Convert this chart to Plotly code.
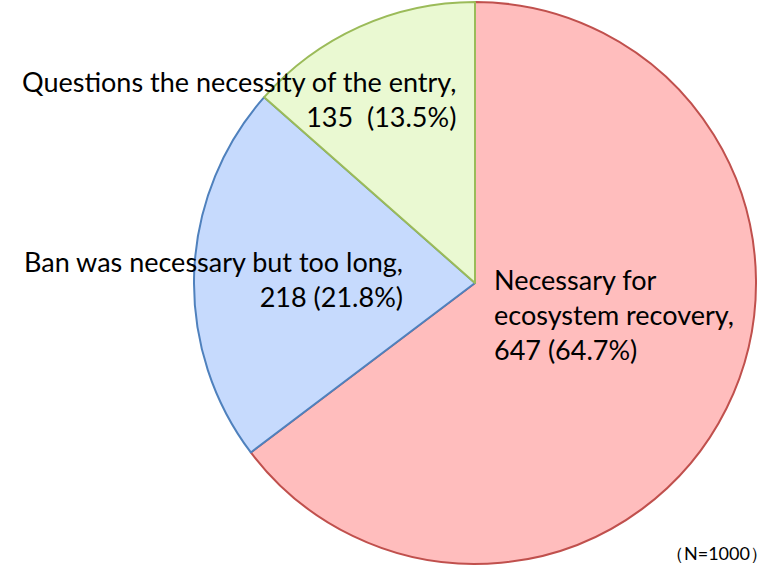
import plotly.graph_objects as go

categories = ["Necessary for ecosystem recovery", "Ban was necessary but too long", "Questions the necessity of the entry"]
counts = [647, 218, 135]
percents = [64.7, 21.8, 13.5]
total_n = 1000

fill_colors = ["#FFBDBD", "#C6DAFD", "#EAF9D2"]
line_colors = ["#C0504D", "#4F81BD", "#9BBB59"]

W, H = 773, 572
cx, cy, r = 475, 283, 281

fig = go.Figure(go.Pie(
    labels=categories,
    values=counts,
    sort=False,
    direction="clockwise",
    rotation=0,
    textinfo="none",
    hoverinfo="label+value+percent",
    marker=dict(colors=fill_colors, line=dict(color=line_colors, width=2)),
    domain=dict(x=[(cx - r) / W, (cx + r) / W], y=[(H - cy - r) / H, (H - cy + r) / H]),
    showlegend=False,
))

font = dict(family="Lato, Open Sans, sans-serif", size=27, color="#000000")
fig.add_annotation(x=492 / W, y=1 - 261 / H, xref="paper", yref="paper", xanchor="left", yanchor="top",
                   align="left", showarrow=False, font=font,
                   text=f"Necessary for<br>ecosystem recovery,<br>{counts[0]} ({percents[0]}%)")
fig.add_annotation(x=405 / W, y=1 - 243 / H, xref="paper", yref="paper", xanchor="right", yanchor="top",
                   align="right", showarrow=False, font=font,
                   text=f"Ban was necessary but too long,<br>{counts[1]} ({percents[1]}%)")
fig.add_annotation(x=458 / W, y=1 - 63 / H, xref="paper", yref="paper", xanchor="right", yanchor="top",
                   align="right", showarrow=False, font=font,
                   text=f"Questions the necessity of the entry,<br>{counts[2]}  ({percents[2]}%)")
fig.add_annotation(x=770 / W, y=1 - 566 / H, xref="paper", yref="paper", xanchor="right", yanchor="bottom",
                   showarrow=False, font=dict(family="Lato, Open Sans, sans-serif", size=18, color="#000000"),
                   text=f"（N={total_n}）")

fig.update_layout(width=W, height=H, margin=dict(l=0, r=0, t=0, b=0),
                  paper_bgcolor="white", plot_bgcolor="white")
fig.write_html("out.html")
